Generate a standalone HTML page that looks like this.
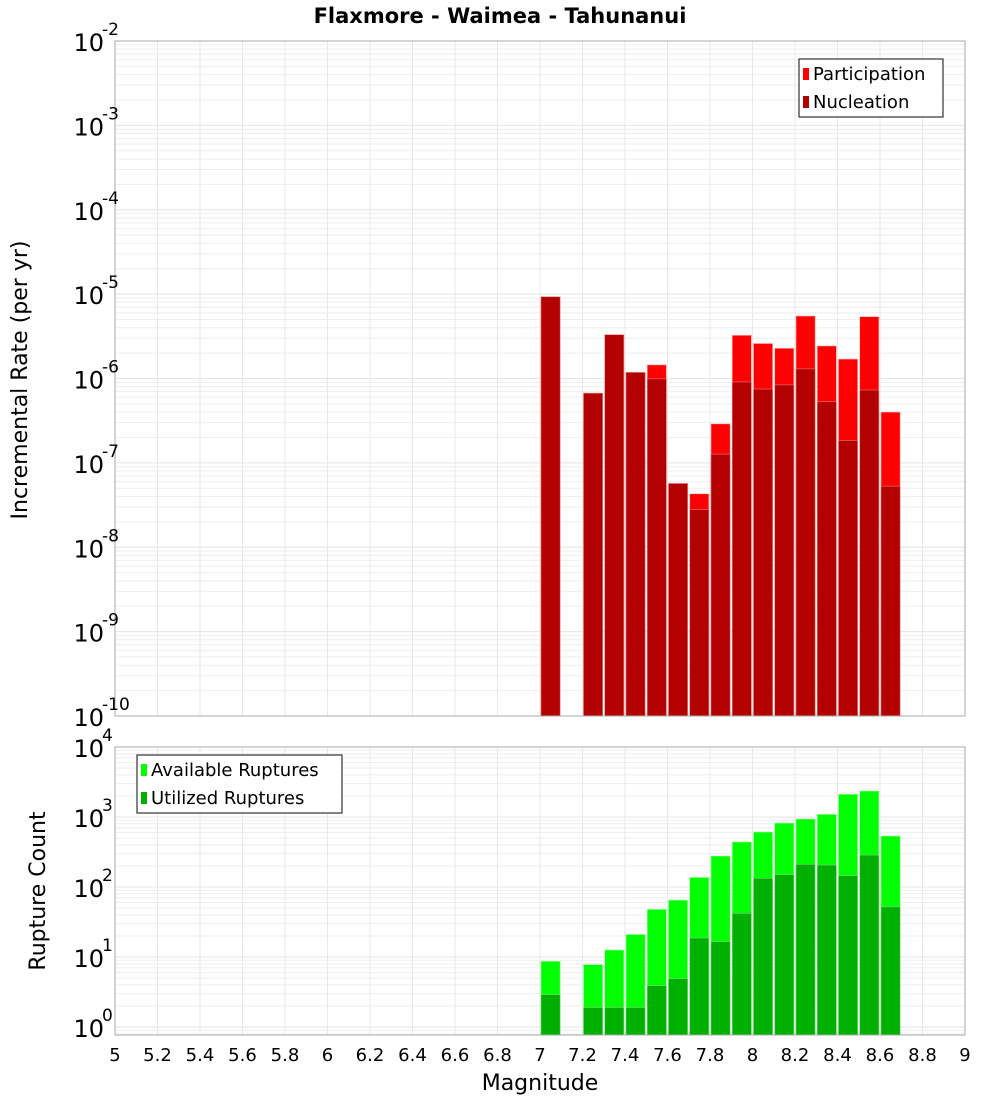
<!DOCTYPE html>
<html><head><meta charset="utf-8"><style>
body{margin:0;background:#fff;width:1000px;height:1100px;overflow:hidden;font-family:"Liberation Sans","DejaVu Sans",sans-serif}
svg text{font-family:"DejaVu Sans","Liberation Sans",sans-serif}
</style></head><body>
<svg id="chart" width="1000" height="1100" xmlns="http://www.w3.org/2000/svg"></svg>
<script>
const mags = [7.0,7.2,7.3,7.4,7.5,7.6,7.7,7.8,7.9,8.0,8.1,8.2,8.3,8.4,8.5,8.6];
const participation = [9.3e-6,6.7e-7,3.3e-6,1.18e-6,1.45e-6,5.7e-8,4.3e-8,2.9e-7,3.25e-6,2.6e-6,2.28e-6,5.5e-6,2.43e-6,1.7e-6,5.4e-6,4.0e-7];
const nucleation = [9.3e-6,6.7e-7,3.3e-6,1.18e-6,9.9e-7,5.7e-8,2.8e-8,1.27e-7,9.1e-7,7.5e-7,8.4e-7,1.3e-6,5.3e-7,1.85e-7,7.3e-7,5.3e-8];
const available = [8.7,7.8,12.6,21,48,65,137,277,440,610,820,936,1092,2110,2350,535];
const utilized = [2.9,1.9,1.9,1.9,3.9,4.9,18.7,16.6,42,133,150,211,206,145,286,52];
const xTicks = ["5","5.2","5.4","5.6","5.8","6","6.2","6.4","6.6","6.8","7","7.2","7.4","7.6","7.8","8","8.2","8.4","8.6","8.8","9"];
const topExps = [-2,-3,-4,-5,-6,-7,-8,-9,-10];
const botExps = [4,3,2,1,0];

const NS="http://www.w3.org/2000/svg";
const svg=document.getElementById('chart');
function el(tag,attrs,parent){const e=document.createElementNS(NS,tag);for(const k in attrs)e.setAttribute(k,attrs[k]);(parent||svg).appendChild(e);return e;}
const X0=115,X1=965;
const x=m=>X0+(m-5)/4*(X1-X0);
const T={top:41,bot:716,lmax:-2,lmin:-10};
const B={top:747,bot:1035,lmax:4,lmin:Math.log10(0.77)};
const y=(P,v)=>P.top+(P.lmax-Math.log10(v))/(P.lmax-P.lmin)*(P.bot-P.top);

function panel(P,name){
  const g=el('g',{});
  
  
  for(let e=Math.floor(P.lmin);e<P.lmax;e++){
    for(let k=1;k<10;k++){const v=k*Math.pow(10,e);const l=Math.log10(v);if(l<P.lmin||l>P.lmax)continue;
      const yy=y(P,v);el('line',{x1:X0,x2:X1,y1:yy,y2:yy,stroke:k==1?'#e4e4e4':'#eeeeee','stroke-width':1},g);}
  }
  for(let i=1;i<20;i++){const xx=x(5+i*0.2);el('line',{x1:xx,x2:xx,y1:P.top,y2:P.bot,stroke:'#e8e8e8','stroke-width':1},g);}
}
panel(T,'top-panel');panel(B,'bottom-panel');

const bw=(x(5.1)-x(5))*0.9;
mags.forEach((m,i)=>{
  const xx=x(m)+1;
  let r=el('rect',{x:xx,y:y(T,participation[i]),width:bw,height:T.bot-y(T,participation[i]),fill:'#ff0000',stroke:'#ffb0b0','stroke-width':0.6});
  
  
  r=el('rect',{x:xx,y:y(T,nucleation[i]),width:bw,height:T.bot-y(T,nucleation[i]),fill:'#b30000',stroke:'#e08080','stroke-width':0.6});
  
  
  r=el('rect',{x:xx,y:y(B,available[i]),width:bw,height:B.bot-y(B,available[i]),fill:'#00ff00',stroke:'#a0ffa0','stroke-width':0.6});
  
  
  r=el('rect',{x:xx,y:y(B,utilized[i]),width:bw,height:B.bot-y(B,utilized[i]),fill:'#00b000',stroke:'#80d080','stroke-width':0.6});
  
  
});

[T,B].forEach(P=>el('rect',{x:X0,y:P.top,width:X1-X0,height:P.bot-P.top,fill:'none',stroke:'#aaaaaa','stroke-width':1}));

function ylab(P,exps,name){
  exps.forEach(e=>{
    const yy=y(P,Math.pow(10,e));
    const t=el('text',{x:104,y:yy+10,'text-anchor':'end','font-size':24,fill:'#000'});
    
    
    t.textContent='10';
    const s=el('text',{x:102,y:yy-6,'font-size':17,fill:'#000'});
    
    
    s.textContent=String(e).replace('-','-');
  });
}
ylab(T,topExps,'top-y');ylab(B,botExps,'bottom-y');

xTicks.forEach(l=>{
  const t=el('text',{x:x(parseFloat(l)),y:1061,'text-anchor':'middle','font-size':18,fill:'#000'});
  
  
  t.textContent=l;
});

let t=el('text',{x:500,y:23,'text-anchor':'middle','font-size':21,'font-weight':'bold'});


t.textContent='Flaxmore - Waimea - Tahunanui';
t=el('text',{x:540,y:1090,'text-anchor':'middle','font-size':22});


t.textContent='Magnitude';
t=el('text',{x:0,y:0,'text-anchor':'middle','font-size':22,transform:'translate(27,380) rotate(-90)'});


t.textContent='Incremental Rate (per yr)';
t=el('text',{x:0,y:0,'text-anchor':'middle','font-size':22,transform:'translate(45,891) rotate(-90)'});


t.textContent='Rupture Count';

function legend(x0,y0,w,items,name){
  const g=el('g',{});
  
  
  el('rect',{x:x0,y:y0,width:w,height:58,fill:'#fff',stroke:'#333','stroke-width':1.2},g);
  items.forEach((it,i)=>{
    el('rect',{x:x0+4,y:y0+9+i*28,width:6,height:12,fill:it[1]},g);
    const tt=el('text',{x:x0+14,y:y0+21+i*28,'font-size':18},g);
    
    
    tt.textContent=it[0];
  });
}
legend(799,59,144,[['Participation','#ff0000'],['Nucleation','#b30000']],'top-legend');
legend(137,755,205,[['Available Ruptures','#00ff00'],['Utilized Ruptures','#00b000']],'bottom-legend');
</script>
</body></html>
